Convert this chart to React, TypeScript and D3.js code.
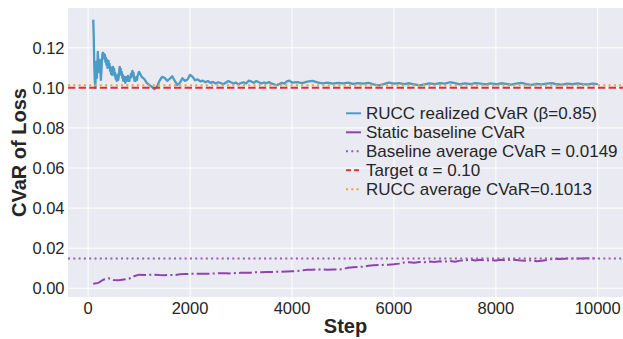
import React from 'react';
import * as d3 from 'd3';

// ---------- data ----------
const ruccStepsEarly = d3.range(100, 1000, 10);
const ruccValuesEarly = [
  0.134, 0.126, 0.112, 0.104, 0.100, 0.106, 0.113, 0.105, 0.109, 0.118,
  0.112, 0.108, 0.111, 0.114, 0.109, 0.104, 0.108, 0.113, 0.117, 0.1175,
  0.115, 0.117, 0.1145, 0.1165, 0.113, 0.115, 0.1115, 0.114, 0.110, 0.1125,
  0.1135, 0.1105, 0.112, 0.1085, 0.1105, 0.107, 0.109, 0.1065, 0.1095, 0.1105,
  0.108, 0.1095, 0.106, 0.1075, 0.1045, 0.106, 0.1035, 0.1055, 0.1065, 0.104,
  0.1055, 0.1085, 0.1105, 0.108, 0.1095, 0.1065, 0.108, 0.105, 0.1065, 0.1035,
  0.1055, 0.104, 0.1055, 0.1025, 0.1045, 0.1035, 0.1055, 0.104, 0.106, 0.1035,
  0.105, 0.1035, 0.1055, 0.105, 0.107, 0.1055, 0.1075, 0.1085, 0.1065, 0.1075,
  0.105, 0.1035, 0.105, 0.1035, 0.1045, 0.1055, 0.104, 0.106, 0.1065, 0.1075,
];
const ruccStepsMid = d3.range(1000, 4000, 50);
const ruccValuesMid = [
  0.108, 0.1055, 0.1045, 0.1025, 0.1015, 0.1005, 0.0993, 0.1005, 0.1035, 0.1055,
  0.105, 0.1035, 0.1045, 0.1058, 0.1035, 0.1015, 0.1025, 0.1048, 0.1035, 0.1042,
  0.1065, 0.1055, 0.1038, 0.1042, 0.1032, 0.1036, 0.1028, 0.1034, 0.1025, 0.103,
  0.1022, 0.1028, 0.1024, 0.1018, 0.1026, 0.1034, 0.1028, 0.1022, 0.1026, 0.1018,
  0.1024, 0.1028, 0.1022, 0.1036, 0.1032, 0.1025, 0.1034, 0.1028, 0.1022, 0.1027,
  0.1023, 0.1029, 0.1021, 0.1018, 0.1013, 0.1019, 0.1025, 0.1021, 0.1032, 0.1036,
];
const ruccStepsLate = d3.range(4000, 10001, 100);
const ruccValuesLate = [
  0.1026, 0.1029, 0.1024, 0.1031, 0.1035, 0.1027, 0.1022, 0.1026, 0.1021, 0.1025,
  0.1022, 0.1026, 0.102, 0.1024, 0.1021, 0.1025, 0.1018, 0.1013, 0.1019, 0.1026,
  0.1021, 0.1024, 0.1019, 0.1023, 0.1018, 0.1012, 0.1017, 0.1022, 0.1019, 0.1024,
  0.1021, 0.1028, 0.1024, 0.1018, 0.1022, 0.1019, 0.1024, 0.1021, 0.1017, 0.1022,
  0.1018, 0.1023, 0.102, 0.1016, 0.1021, 0.1025, 0.1019, 0.1015, 0.102, 0.1017,
  0.1021, 0.1024, 0.1018, 0.1016, 0.1021, 0.1018, 0.1022, 0.1019, 0.1017, 0.1021,
  0.1019,
];

const baselineSteps = d3.range(100, 10001, 100);
const baselineValues = [
  0.0023, 0.0027, 0.0043, 0.0050, 0.0041, 0.0040, 0.0044, 0.0048, 0.0060, 0.0068,
  0.0066, 0.0067, 0.0068, 0.0066, 0.0065, 0.0067, 0.0066, 0.0070, 0.0071, 0.0072,
  0.0072, 0.0073, 0.0072, 0.0073, 0.0074, 0.0075, 0.0075, 0.0074, 0.0076, 0.0077,
  0.0077, 0.0078, 0.0080, 0.0080, 0.0081, 0.0081, 0.0082, 0.0083, 0.0084, 0.0085,
  0.0086, 0.0089, 0.0093, 0.0093, 0.0094, 0.0094, 0.0093, 0.0094, 0.0093, 0.0096,
  0.0102, 0.0105, 0.0107, 0.0108, 0.0112, 0.0115, 0.0116, 0.0117, 0.0118, 0.0120,
  0.0123, 0.0129, 0.0130, 0.0128, 0.0131, 0.0130, 0.0133, 0.0131, 0.0135, 0.0133,
  0.0136, 0.0133, 0.0138, 0.0140, 0.0143, 0.0139, 0.0142, 0.0138, 0.0141, 0.0139,
  0.0142, 0.0139, 0.0143, 0.0141, 0.0138, 0.0137, 0.0140, 0.0135, 0.0137, 0.0141,
  0.0146, 0.0147, 0.0146, 0.0148, 0.0148, 0.0149, 0.0149, 0.0150, 0.0150, 0.0150,
];

const baselineAvg = 0.0149;
const targetAlpha = 0.10;
const ruccAvg = 0.1013;

const xTicks = [0, 2000, 4000, 6000, 8000, 10000];
const yTicks = [0.0, 0.02, 0.04, 0.06, 0.08, 0.1, 0.12];

const legendLabels = [
  'RUCC realized CVaR (β=0.85)',
  'Static baseline CVaR',
  'Baseline average CVaR = 0.0149',
  'Target α = 0.10',
  'RUCC average CVaR=0.1013',
];

// ---------- styling ----------
const W = 623;
const H = 339;
const C_BLUE = '#4a9bc6';
const C_PURPLE = '#8e44ad';
const C_PURPLE_DOT = '#9b59b6';
const C_RED = '#dd2f2f';
const C_ORANGE = '#f5a130';
const TXT = '#262626';
const FONT = '"Liberation Sans", Arial, sans-serif';

export default function App() {
  const left = 68, right = 623, top = 8, bottom = 297;
  const x = d3.scaleLinear().domain([-395, 10495]).range([left, right]);
  const y = d3.scaleLinear().domain([-0.00435, 0.13985]).range([bottom, top]);

  const rucc = [
    ...ruccStepsEarly.map((s, i) => [s, ruccValuesEarly[i]]),
    ...ruccStepsMid.map((s, i) => [s, ruccValuesMid[i]]),
    ...ruccStepsLate.map((s, i) => [s, ruccValuesLate[i]]),
  ] as [number, number][];
  const base = baselineSteps.map((s, i) => [s, baselineValues[i]]) as [number, number][];

  const line = d3
    .line<[number, number]>()
    .x((d) => x(d[0]))
    .y((d) => y(d[1]));

  const hlines = [
    { v: baselineAvg, color: C_PURPLE_DOT, dash: '2,3.3' },
    { v: targetAlpha, color: C_RED, dash: '7.4,3.2' },
    { v: ruccAvg, color: C_ORANGE, dash: '2,3.3' },
  ];

  const legendStyles = [
    { color: C_BLUE, dash: undefined },
    { color: C_PURPLE, dash: undefined },
    { color: C_PURPLE_DOT, dash: '2,3.3' },
    { color: C_RED, dash: '5,3' },
    { color: C_ORANGE, dash: '2,3.3' },
  ];

  return (
    <svg
      width={W}
      height={H}
      style={{ position: 'absolute', left: 0, top: 0, background: '#fff' }}
      fontFamily={FONT}
    >
      <defs>
        <clipPath id="plot">
          <rect x={left} y={top} width={right - left} height={bottom - top} />
        </clipPath>
      </defs>
      <rect x={left} y={top} width={right - left} height={bottom - top} fill="#eaeaf2" />
      {xTicks.map((t) => (
        <line key={'gx' + t} x1={x(t)} x2={x(t)} y1={top} y2={bottom} stroke="#fff" strokeWidth={1} />
      ))}
      {yTicks.map((t) => (
        <line key={'gy' + t} x1={left} x2={right} y1={y(t)} y2={y(t)} stroke="#fff" strokeWidth={1} />
      ))}
      <g clipPath="url(#plot)">
        <path d={line(rucc) || ''} fill="none" stroke={C_BLUE} strokeWidth={2.3} strokeLinejoin="round" />
        <path
          d={line(base) || ''}
          fill="none"
          stroke={C_PURPLE}
          strokeWidth={2}
          strokeDasharray="12.8,3.2,2,3.2"
        />
        {hlines.map((h, i) => (
          <line
            key={'h' + i}
            x1={left}
            x2={right}
            y1={y(h.v)}
            y2={y(h.v)}
            stroke={h.color}
            strokeWidth={2}
            strokeDasharray={h.dash}
          />
        ))}
      </g>
      {xTicks.map((t) => (
        <text key={'tx' + t} x={x(t)} y={313.5} textAnchor="middle" fontSize={16.5} fill={TXT}>
          {t}
        </text>
      ))}
      {yTicks.map((t) => (
        <text key={'ty' + t} x={64.5} y={y(t)} dy="0.36em" textAnchor="end" fontSize={16.5} fill={TXT}>
          {t.toFixed(2)}
        </text>
      ))}
      <text x={(left + right) / 2} y={332.5} textAnchor="middle" fontSize={20} fontWeight="bold" fill={TXT}>
        Step
      </text>
      <text
        transform={`translate(26,${(top + bottom) / 2}) rotate(-90)`}
        textAnchor="middle"
        fontSize={20}
        fontWeight="bold"
        fill={TXT}
      >
        CVaR of Loss
      </text>
      <g>
        {legendLabels.map((lab, i) => {
          const cy = 113.3 + i * 19;
          const st = legendStyles[i];
          return (
            <g key={'lg' + i}>
              <line
                x1={346}
                x2={361}
                y1={cy}
                y2={cy}
                stroke={st.color}
                strokeWidth={2}
                strokeDasharray={st.dash}
              />
              <text x={366} y={cy} dy="0.36em" fontSize={17} fill={TXT}>
                {lab}
              </text>
            </g>
          );
        })}
      </g>
    </svg>
  );
}
